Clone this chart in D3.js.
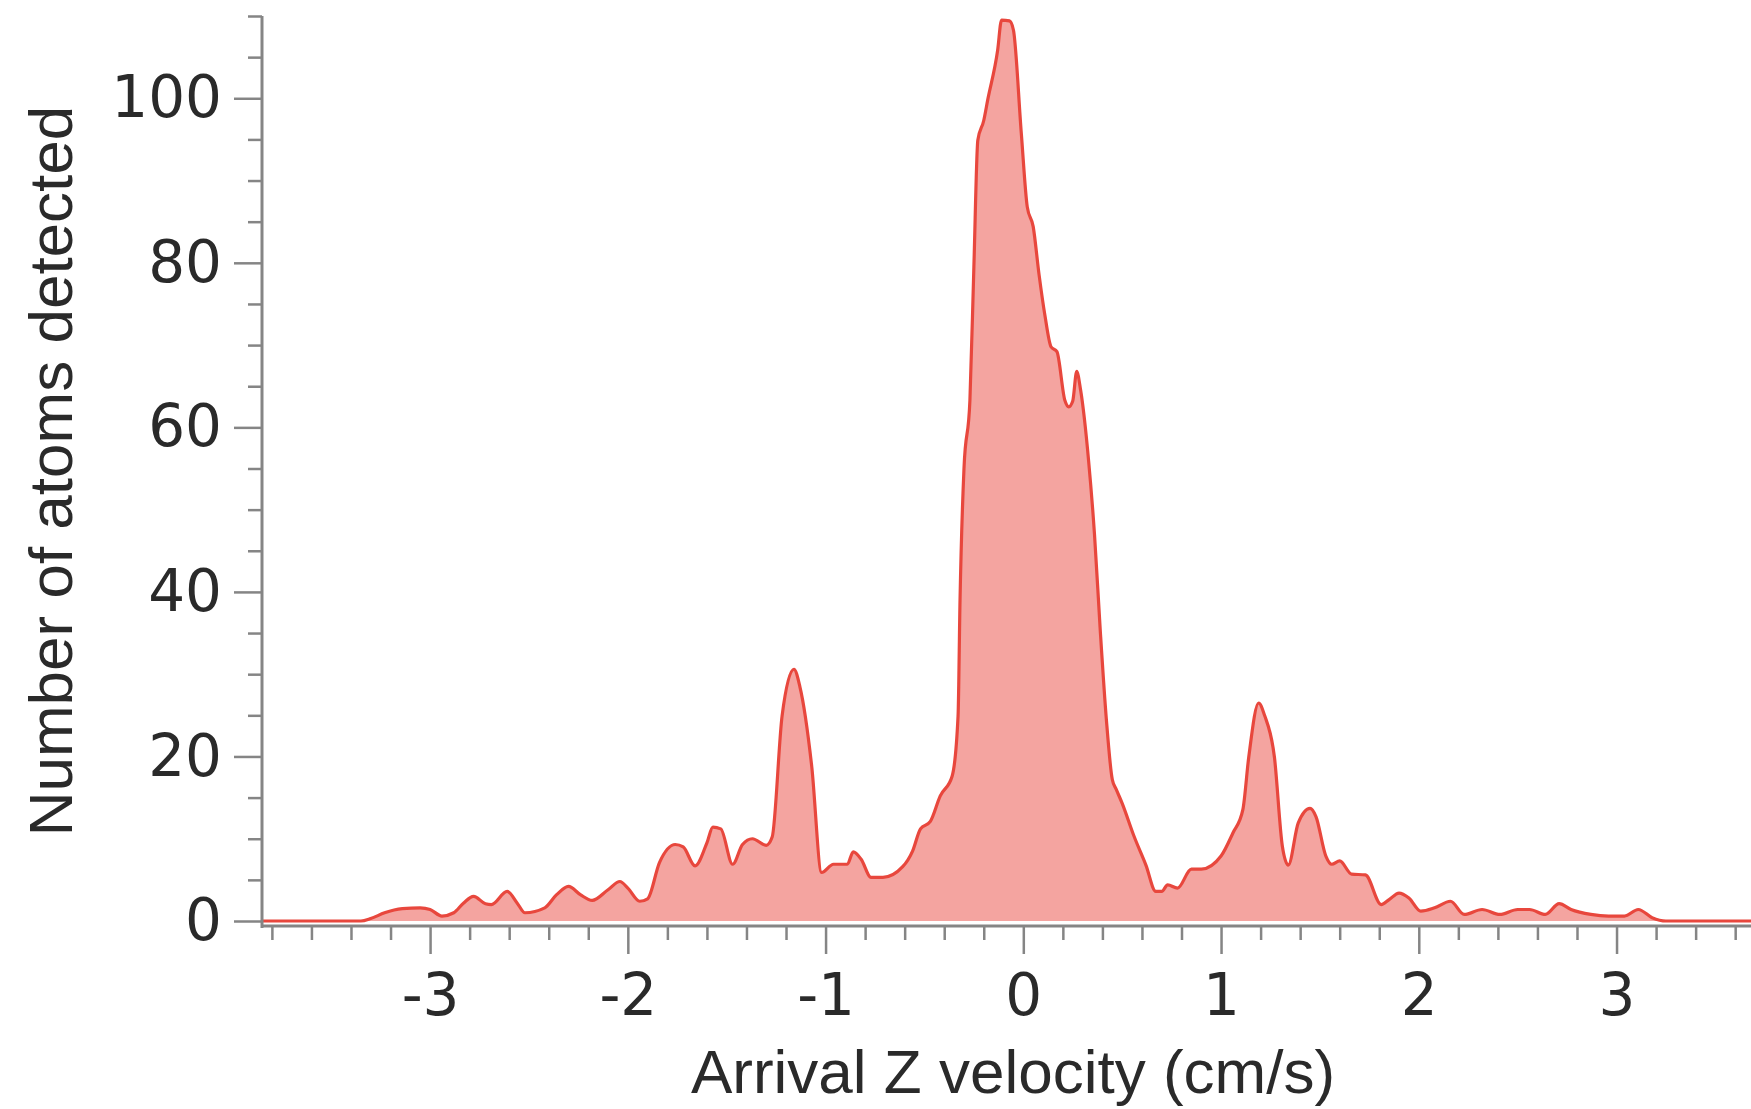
<!DOCTYPE html>
<html>
<head>
<meta charset="utf-8">
<script src="https://cdn.jsdelivr.net/npm/d3@7"></script>
<style>
  html, body { margin: 0; padding: 0; background: #fff; }
  svg { display: block; }
</style>
</head>
<body>
<svg id="chart" width="1751" height="1109"></svg>
<script>
// arrival velocity (cm/s) and atom counts
const velocity = [
  -3.85, -3.6, -3.35, -3.30, -3.23, -3.14, -3.05, -3.00, -2.94, -2.88,
  -2.83, -2.78, -2.72, -2.69, -2.61, -2.56, -2.52, -2.42, -2.36, -2.30,
  -2.24, -2.18, -2.10, -2.04, -2.00, -1.94, -1.90, -1.84, -1.76, -1.72,
  -1.66, -1.60, -1.57, -1.53, -1.47, -1.42, -1.37, -1.30, -1.27, -1.22,
  -1.16, -1.13, -1.07, -1.02, -0.96, -0.89, -0.86, -0.82, -0.77, -0.71,
  -0.61, -0.56, -0.52, -0.47, -0.42, -0.36, -0.33, -0.32, -0.30, -0.27,
  -0.25, -0.23, -0.20, -0.18, -0.13, -0.11, -0.07, -0.05, -0.01, 0.02,
  0.05, 0.08, 0.11, 0.14, 0.17, 0.21, 0.23, 0.25, 0.27, 0.29,
  0.33, 0.36, 0.39, 0.42, 0.45, 0.47, 0.50, 0.56, 0.62, 0.67,
  0.70, 0.73, 0.78, 0.85, 0.90, 1.00, 1.06, 1.11, 1.14, 1.19,
  1.22, 1.27, 1.31, 1.34, 1.39, 1.45, 1.48, 1.53, 1.56, 1.60,
  1.66, 1.73, 1.81, 1.85, 1.90, 1.95, 2.01, 2.08, 2.16, 2.23,
  2.32, 2.41, 2.50, 2.56, 2.64, 2.71, 2.77, 2.87, 2.96, 3.04,
  3.11, 3.18, 3.25, 3.68
];
const counts = [
  0, 0, 0, 0.3, 1.0, 1.5, 1.6, 1.4, 0.6, 1.0,
  2.2, 3.0, 2.1, 2.0, 3.6, 2.2, 1.0, 1.6, 3.2, 4.2,
  3.2, 2.5, 3.8, 4.8, 4.0, 2.4, 2.7, 7.1, 9.3, 9.0,
  6.7, 9.5, 11.4, 11.2, 6.9, 9.3, 10.0, 9.2, 10.2, 24.9,
  30.6, 28.5, 18.8, 5.9, 6.9, 6.9, 8.4, 7.5, 5.3, 5.3,
  6.6, 8.5, 11.2, 12.1, 15.2, 17.6, 24.9, 39, 55, 63.3,
  79.5, 94.9, 97.3, 99.8, 105.8, 109.5, 109.4, 108.3, 95.7, 86.8,
  84.4, 78.5, 73.5, 69.8, 69.2, 63.3, 62.5, 63.2, 66.8, 64.5,
  56, 47, 35, 24.5, 17.2, 16.0, 14.3, 10.3, 6.8, 3.6,
  3.6, 4.4, 4.0, 6.3, 6.3, 7.9, 10.7, 13.5, 19.9, 26.5,
  25.0, 19.9, 9.1, 6.8, 11.9, 13.7, 12.7, 7.9, 6.9, 7.3,
  5.7, 5.6, 2.0, 2.6, 3.4, 2.8, 1.2, 1.6, 2.4, 0.8,
  1.4, 0.8, 1.4, 1.4, 0.8, 2.1, 1.4, 0.8, 0.6, 0.6,
  1.4, 0.4, 0, 0
];
const xMajorTicks = [-3, -2, -1, 0, 1, 2, 3];
const yMajorTicks = [0, 20, 40, 60, 80, 100];

const data = velocity.map((v, i) => ({ v: v, n: counts[i] }));

const svg = d3.select('#chart');
const axisColor = '#858585';

const x = d3.scaleLinear().domain([-3.85, 3.68]).range([262, 1751]);
const y = d3.scaleLinear().domain([0, 110]).range([921, 16]);

// filled area + outline
const area = d3.area()
  .x(d => x(d.v))
  .y0(y(0))
  .y1(d => y(d.n))
  .curve(d3.curveMonotoneX);

const line = d3.line()
  .x(d => x(d.v))
  .y(d => y(d.n))
  .curve(d3.curveMonotoneX);

svg.append('path')
  .datum(data)
  .attr('d', area)
  .attr('fill', '#f4a4a0');

svg.append('path')
  .datum(data)
  .attr('d', line)
  .attr('fill', 'none')
  .attr('stroke', '#e8473d')
  .attr('stroke-width', 3.2)
  .attr('stroke-linejoin', 'round');

// x axis: majors + minor ticks every 0.2
const xAxisY = 926;
const xMinor = d3.range(-38, 37, 2).map(d => d / 10)
  .filter(d => !xMajorTicks.some(m => Math.abs(m - d) < 1e-6));

const xMajorAxis = d3.axisBottom(x)
  .tickValues(xMajorTicks)
  .tickSize(28)
  .tickPadding(20)
  .tickFormat(d => String(d));   // plain hyphen, like the original

const xMinorAxis = d3.axisBottom(x)
  .tickValues(xMinor)
  .tickSize(14)
  .tickFormat('');

const gxMinor = svg.append('g')
  .attr('transform', `translate(0,${xAxisY})`)
  .call(xMinorAxis);

const gx = svg.append('g')
  .attr('transform', `translate(0,${xAxisY})`)
  .call(xMajorAxis);

// y axis: majors + minor ticks every 5
const yMinor = d3.range(5, 111, 5).filter(d => d % 20 !== 0);

const yMajorAxis = d3.axisLeft(y)
  .tickValues(yMajorTicks)
  .tickSize(28)
  .tickPadding(12);

const yMinorAxis = d3.axisLeft(y)
  .tickValues(yMinor)
  .tickSize(14)
  .tickFormat('');

const gyMinor = svg.append('g')
  .attr('transform', 'translate(262,0)')
  .call(yMinorAxis);

const gy = svg.append('g')
  .attr('transform', 'translate(262,0)')
  .call(yMajorAxis);

[gx, gxMinor, gy, gyMinor].forEach(g => {
  g.select('.domain').remove();
  g.selectAll('line').attr('stroke', axisColor).attr('stroke-width', 2.5);
  g.selectAll('text')
    .attr('fill', '#2a2a2a')
    .style('font-family', '"DejaVu Sans", sans-serif')
    .style('font-size', '58px');
});

// axis lines
svg.append('line')
  .attr('x1', 262).attr('x2', 1751)
  .attr('y1', xAxisY).attr('y2', xAxisY)
  .attr('stroke', axisColor).attr('stroke-width', 3);

svg.append('line')
  .attr('x1', 262).attr('x2', 262)
  .attr('y1', y(110)).attr('y2', xAxisY + 2)
  .attr('stroke', axisColor).attr('stroke-width', 3);

// titles
svg.append('text')
  .attr('x', 1013)
  .attr('y', 1093)
  .attr('text-anchor', 'middle')
  .attr('fill', '#2a2a2a')
  .style('font-family', '"Liberation Sans", Arial, sans-serif')
  .style('font-size', '62px')
  .text('Arrival Z velocity (cm/s)');

svg.append('text')
  .attr('transform', 'translate(72,471) rotate(-90)')
  .attr('text-anchor', 'middle')
  .attr('fill', '#2a2a2a')
  .style('font-family', '"Liberation Sans", Arial, sans-serif')
  .style('font-size', '62px')
  .text('Number of atoms detected');
</script>
</body>
</html>
